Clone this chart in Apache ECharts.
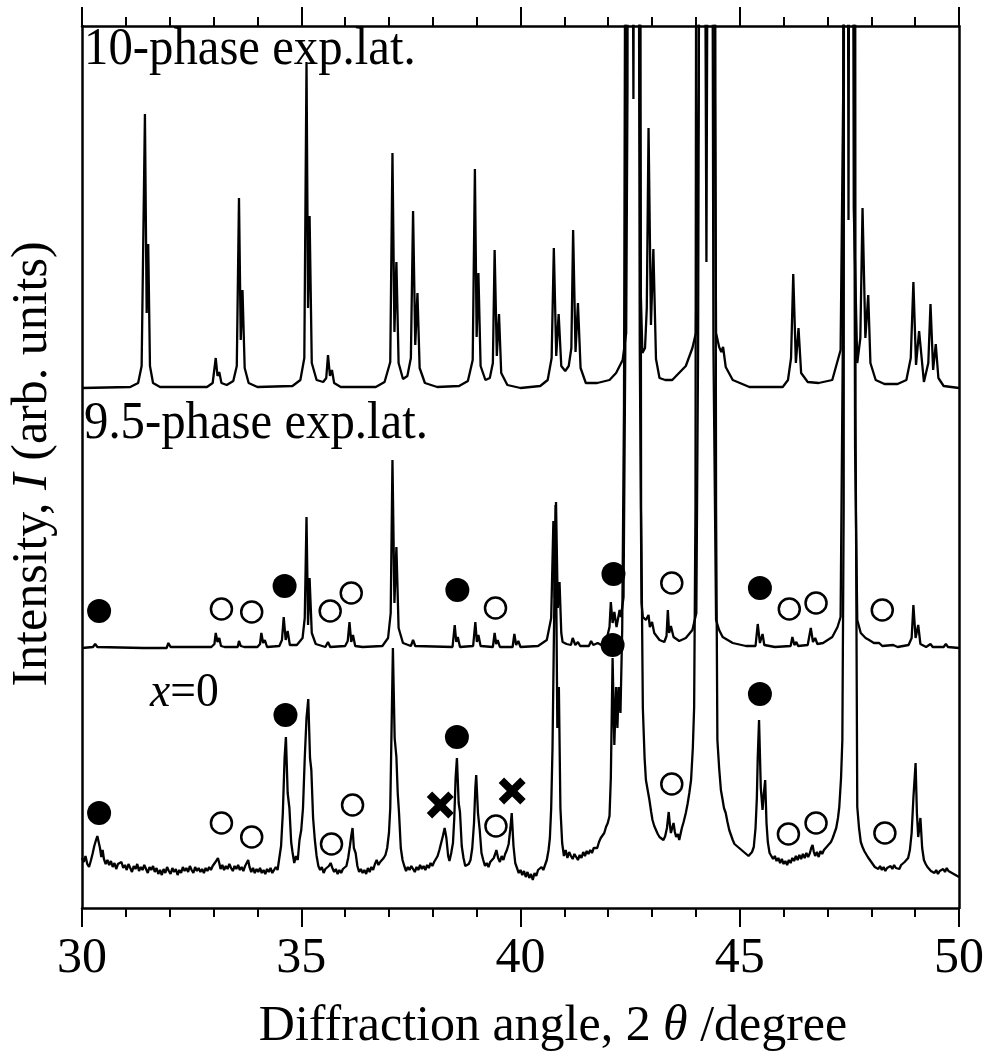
<!DOCTYPE html>
<html lang="en">

<head>
    <meta charset="UTF-8">
    <title>XRD patterns</title>
    <script src="https://cdn.jsdelivr.net/npm/echarts@6.0.0/dist/echarts.min.js"></script>
    <style>
        body { margin: 0; background: #fff; }
    </style>
</head>

<body>
    <div id="xrdChart" style="width: 987px; height: 1053px;"></div>
    <script>
        // x axis ticks (2theta, degree)
        const xTicks = [30, 35, 40, 45, 50];

        // vertical offsets of the stacked patterns (arb. units)
        const tenPhaseOffset = 520;
        const ninePhaseOffset = 260;
        const x0Offset = 0;

        // 10-phase exp.lat. simulated profile [2theta, intensity above its baseline]
        const tenPhaseProfile = [
            [30, 0], [31.1, 1], [31.28, 5], [31.36, 22], [31.435, 274], [31.475, 75], [31.51, 144], [31.55, 22], [31.62, 5], [31.78, 1],
            [32.85, 1], [32.98, 5], [33.05, 30], [33.09, 12], [33.13, 16], [33.18, 5], [33.3, 3], [33.45, 7], [33.53, 22],
            [33.58, 190], [33.62, 48], [33.66, 98], [33.71, 20], [33.8, 5], [34.0, 1],
            [34.8, 2], [34.98, 8], [35.07, 30], [35.12, 326], [35.155, 80], [35.19, 172], [35.24, 25], [35.35, 8],
            [35.5, 6], [35.57, 10], [35.61, 33], [35.655, 12], [35.7, 18], [35.75, 5], [35.9, 1],
            [36.7, 1], [36.9, 6], [37.03, 26], [37.08, 235], [37.125, 56], [37.17, 126], [37.22, 25], [37.32, 9],
            [37.42, 12], [37.5, 30], [37.55, 177], [37.6, 43], [37.65, 95], [37.7, 20], [37.82, 5], [38.1, 1],
            [38.6, 2], [38.8, 7], [38.91, 28], [38.96, 219], [39.0, 51], [39.04, 115], [39.09, 22], [39.2, 8],
            [39.3, 10], [39.37, 25], [39.41, 138], [39.46, 32], [39.51, 74], [39.56, 15], [39.7, 3], [40.0, 0], [40.45, 2],
            [40.62, 8], [40.71, 30], [40.76, 140], [40.815, 32], [40.87, 74], [40.93, 22], [41.02, 17],
            [41.1, 22], [41.16, 40], [41.2, 158], [41.255, 36], [41.31, 85], [41.37, 20], [41.49, 5],
            [41.75, 5], [42.03, 8], [42.18, 15], [42.33, 28], [42.41, 55], [42.44, 300], [42.47, 1500],
            [42.575, 289], [42.65, 1500], [42.7, 500], [42.74, 100], [42.78, 35], [42.84, 40], [42.88, 80],
            [42.92, 260], [42.975, 63], [43.03, 139], [43.09, 29], [43.17, 10], [43.3, 8], [43.46, 8],
            [43.77, 22], [43.92, 40], [44.0, 55], [44.06, 300], [44.12, 1500], [44.24, 126], [44.34, 1500],
            [44.42, 400], [44.46, 55], [44.53, 41], [44.58, 36], [44.62, 41], [44.68, 21], [44.72, 23],
            [44.84, 8], [45.22, 1], [45.98, 1], [46.1, 8], [46.17, 30], [46.22, 114], [46.28, 25], [46.34, 60],
            [46.4, 15], [46.55, 6], [46.8, 5], [47.11, 8], [47.3, 38], [47.36, 300], [47.42, 1500],
            [47.48, 168], [47.54, 1500], [47.6, 180], [47.68, 25], [47.75, 50], [47.8, 180], [47.865, 50],
            [47.93, 93], [47.98, 25], [48.1, 8], [48.3, 4], [48.6, 4], [48.8, 8], [48.9, 30], [48.96, 106],
            [49.02, 23], [49.09, 57], [49.2, 6], [49.3, 25], [49.35, 84], [49.41, 18], [49.47, 44],
            [49.53, 10], [49.65, 2], [50, 0]
        ];

        // 9.5-phase exp.lat. simulated profile [2theta, intensity above its baseline]
        const ninePhaseProfile = [
            [30, 0], [30.25, 1], [30.3, 4], [30.35, 1], [31.4, 0], [31.43, 2], [31.47, 0], [31.93, 0], [31.97, 5], [32.02, 1],
            [32.95, 1], [33.02, 4], [33.05, 15], [33.09, 6], [33.13, 10], [33.17, 2], [33.25, 1], [33.55, 1], [33.58, 7],
            [33.62, 2], [33.66, 4], [33.7, 1], [34.0, 1], [34.06, 4], [34.09, 15], [34.13, 5], [34.17, 8], [34.22, 1],
            [34.5, 2], [34.56, 8], [34.6, 31], [34.645, 8], [34.69, 17], [34.74, 3], [34.9, 3], [35.03, 10], [35.08, 30],
            [35.12, 131], [35.155, 23], [35.19, 70], [35.24, 15], [35.33, 4], [35.55, 1], [35.61, 6], [35.66, 1],
            [36.0, 2], [36.06, 7], [36.1, 26], [36.14, 6], [36.18, 13], [36.23, 2], [36.4, 1], [36.85, 2], [36.98, 10],
            [37.04, 35], [37.08, 188], [37.125, 45], [37.17, 101], [37.22, 20], [37.32, 5], [37.5, 2], [37.55, 8],
            [37.6, 2], [38.45, 1], [38.5, 23], [38.535, 6], [38.57, 11], [38.62, 1], [38.92, 2], [38.97, 26],
            [39.005, 6], [39.04, 13], [39.09, 2], [39.37, 1], [39.41, 15], [39.445, 4], [39.48, 8], [39.53, 1],
            [39.82, 1], [39.86, 14], [39.9, 3], [39.95, 7], [40.0, 1], [40.4, 2], [40.6, 8], [40.7, 30], [40.75, 127],
            [40.78, 50], [40.81, 146], [40.85, 40], [40.89, 66], [40.93, 15], [40.96, 6], [41.05, 4], [41.15, 3],
            [41.19, 10], [41.25, 3], [41.31, 6], [41.36, 2], [41.56, 2], [41.61, 7], [41.66, 3], [41.76, 5], [41.84, 3],
            [41.96, 8], [42.03, 21], [42.06, 46], [42.1, 25], [42.14, 36], [42.19, 21], [42.26, 38], [42.29, 31],
            [42.35, 51], [42.39, 300], [42.44, 1500], [42.56, 800], [42.66, 1500], [42.72, 300], [42.76, 45],
            [42.79, 31], [42.86, 28], [42.92, 33], [42.95, 21], [43.0, 26], [43.05, 15], [43.17, 8], [43.28, 6],
            [43.33, 12], [43.36, 38], [43.39, 15], [43.43, 22], [43.49, 11], [43.62, 7], [43.77, 10], [43.92, 18],
            [44.01, 35], [44.05, 300], [44.12, 1500], [44.24, 900], [44.34, 1500], [44.4, 300], [44.46, 28],
            [44.53, 18], [44.61, 11], [44.84, 5], [45.14, 2], [45.36, 2], [45.41, 24], [45.46, 5], [45.52, 14],
            [45.56, 3], [45.8, 1], [46.16, 2], [46.2, 11], [46.245, 3], [46.29, 6], [46.33, 2], [46.55, 3],
            [46.62, 20], [46.67, 6], [46.72, 10], [46.77, 4], [46.9, 5], [47.11, 11], [47.23, 21], [47.3, 31],
            [47.35, 300], [47.42, 1500], [47.48, 800], [47.56, 1500], [47.63, 200], [47.68, 28], [47.76, 15],
            [47.8, 17], [47.87, 10], [47.95, 8], [48.06, 5], [48.18, 5], [48.25, 2], [48.5, 3], [48.6, 1],
            [48.85, 3], [48.92, 10], [48.96, 43], [49.01, 10], [49.07, 23], [49.12, 4], [49.25, 1], [49.35, 4],
            [49.4, 1], [49.65, 1], [49.7, 4], [49.75, 1], [50, 0]
        ];

        // x=0 measured profile [2theta, intensity]
        const x0Profile = [
            [30.0, 50], [30.04, 46], [30.08, 52], [30.12, 44], [30.16, 41], [30.2, 47], [30.24, 54], [30.28, 62],
            [30.32, 68], [30.35, 72], [30.38, 66], [30.41, 60], [30.44, 51], [30.47, 58], [30.5, 49], [30.54, 44],
            [30.58, 48], [30.62, 43], [30.66, 47], [30.7, 41], [30.74, 45], [30.78, 39], [30.82, 44], [30.86, 42],
            [30.9, 46], [30.94, 40], [30.98, 43], [31.02, 38], [31.06, 44], [31.1, 40], [31.14, 36], [31.18, 42],
            [31.22, 39], [31.26, 44], [31.3, 37], [31.34, 41], [31.38, 38], [31.42, 43], [31.46, 39], [31.5, 35],
            [31.54, 41], [31.58, 38], [31.62, 42], [31.66, 36], [31.7, 40], [31.74, 34], [31.78, 38], [31.82, 33],
            [31.86, 39], [31.9, 35], [31.94, 41], [31.98, 37], [32.02, 34], [32.06, 40], [32.1, 36], [32.14, 39],
            [32.18, 33], [32.22, 38], [32.26, 35], [32.3, 41], [32.34, 37], [32.38, 40], [32.42, 36], [32.46, 42],
            [32.5, 38], [32.54, 35], [32.58, 41], [32.62, 37], [32.66, 40], [32.7, 36], [32.74, 39], [32.78, 35],
            [32.82, 40], [32.86, 37], [32.9, 41], [32.94, 38], [32.98, 42], [33.02, 40], [33.06, 47], [33.1, 50],
            [33.13, 45], [33.16, 39], [33.2, 43], [33.24, 38], [33.28, 42], [33.32, 39], [33.36, 44], [33.4, 40],
            [33.44, 37], [33.48, 42], [33.52, 39], [33.56, 43], [33.6, 38], [33.64, 41], [33.68, 37], [33.72, 42],
            [33.76, 44], [33.79, 48], [33.82, 41], [33.86, 36], [33.9, 40], [33.94, 35], [33.98, 39], [34.02, 36],
            [34.06, 40], [34.1, 35], [34.14, 38], [34.18, 34], [34.22, 39], [34.26, 36], [34.3, 40], [34.34, 35],
            [34.38, 38], [34.42, 41], [34.46, 38], [34.5, 50], [34.54, 62], [34.58, 95], [34.62, 150], [34.65, 171],
            [34.69, 115], [34.73, 100], [34.77, 66], [34.8, 56], [34.84, 45], [34.88, 52], [34.92, 48], [34.96, 68],
            [35.0, 78], [35.04, 100], [35.08, 150], [35.12, 190], [35.16, 209], [35.2, 150], [35.23, 138], [35.27, 90],
            [35.31, 68], [35.35, 52], [35.39, 42], [35.43, 38], [35.47, 41], [35.51, 35], [35.55, 39], [35.59, 37],
            [35.63, 42], [35.67, 45], [35.71, 40], [35.75, 36], [35.79, 39], [35.83, 34], [35.87, 38], [35.91, 35],
            [35.95, 39], [35.99, 37], [36.03, 42], [36.07, 50], [36.11, 62], [36.14, 72], [36.17, 80], [36.2, 60],
            [36.24, 55], [36.28, 42], [36.32, 36], [36.36, 39], [36.4, 35], [36.44, 38], [36.48, 34], [36.52, 40],
            [36.56, 36], [36.6, 41], [36.64, 38], [36.68, 44], [36.72, 48], [36.76, 43], [36.8, 46], [36.84, 44],
            [36.88, 50], [36.92, 53], [36.96, 60], [37.0, 75], [37.03, 100], [37.06, 180], [37.09, 260], [37.13, 170],
            [37.17, 151], [37.2, 115], [37.23, 95], [37.27, 60], [37.31, 48], [37.35, 42], [37.39, 37], [37.43, 41],
            [37.47, 38], [37.51, 42], [37.55, 39], [37.59, 36], [37.63, 41], [37.67, 38], [37.71, 43], [37.75, 39],
            [37.79, 42], [37.83, 38], [37.87, 43], [37.91, 40], [37.95, 45], [37.99, 42], [38.03, 46], [38.07, 48],
            [38.11, 52], [38.15, 58], [38.19, 65], [38.23, 72], [38.27, 80], [38.31, 70], [38.35, 52], [38.38, 47],
            [38.42, 55], [38.46, 65], [38.49, 90], [38.52, 130], [38.55, 150], [38.59, 105], [38.62, 96], [38.66, 62],
            [38.7, 50], [38.74, 42], [38.78, 40], [38.82, 44], [38.86, 48], [38.9, 60], [38.94, 85], [38.97, 120],
            [38.99, 133], [39.03, 95], [39.07, 78], [39.11, 55], [39.15, 48], [39.19, 42], [39.23, 45], [39.27, 41],
            [39.31, 46], [39.35, 44], [39.39, 50], [39.43, 55], [39.45, 58], [39.49, 50], [39.53, 46], [39.57, 52],
            [39.61, 48], [39.65, 54], [39.69, 58], [39.73, 64], [39.77, 80], [39.8, 95], [39.84, 62], [39.88, 45],
            [39.92, 40], [39.96, 35], [40.0, 38], [40.04, 33], [40.08, 37], [40.12, 31], [40.16, 36], [40.2, 30],
            [40.24, 34], [40.28, 28], [40.32, 35], [40.36, 32], [40.4, 38], [40.44, 36], [40.48, 41], [40.52, 38],
            [40.56, 43], [40.6, 48], [40.64, 58], [40.67, 70], [40.7, 100], [40.73, 160], [40.77, 300], [40.8, 403],
            [40.84, 180], [40.875, 221], [40.91, 100], [40.95, 65], [40.99, 52], [41.03, 58], [41.07, 50], [41.11, 56],
            [41.15, 52], [41.19, 49], [41.23, 54], [41.27, 51], [41.31, 48], [41.35, 53], [41.39, 50], [41.43, 56],
            [41.47, 52], [41.51, 57], [41.55, 54], [41.59, 58], [41.63, 55], [41.67, 60], [41.71, 62], [41.75, 60],
            [41.79, 66], [41.83, 70], [41.87, 68], [41.91, 75], [41.95, 81], [41.99, 85], [42.03, 92], [42.06, 130],
            [42.1, 250], [42.14, 163], [42.18, 221], [42.21, 180], [42.24, 221], [42.28, 195], [42.32, 280],
            [42.36, 500], [42.4, 1200], [42.45, 3000], [42.55, 3000], [42.6, 3000], [42.68, 3000], [42.72, 1500],
            [42.75, 400], [42.79, 200], [42.83, 150], [42.86, 128], [42.9, 118], [42.94, 108], [42.98, 96],
            [43.01, 88], [43.05, 82], [43.09, 78], [43.13, 74], [43.17, 71], [43.21, 73], [43.26, 68], [43.3, 72],
            [43.34, 80], [43.38, 96], [43.41, 82], [43.43, 75], [43.46, 80], [43.49, 85], [43.52, 76], [43.55, 71],
            [43.59, 74], [43.62, 68], [43.65, 74], [43.68, 80], [43.72, 86], [43.77, 95], [43.81, 104], [43.85, 115],
            [43.89, 128], [43.93, 160], [43.96, 201], [43.99, 400], [44.02, 1500], [44.1, 3000], [44.2, 2500],
            [44.35, 3000], [44.42, 1500], [44.46, 400], [44.49, 168], [44.53, 140], [44.57, 118], [44.61, 108],
            [44.64, 100], [44.68, 95], [44.72, 86], [44.76, 78], [44.8, 73], [44.84, 68], [44.88, 64], [44.92, 66],
            [44.96, 61], [45.0, 63], [45.04, 58], [45.08, 60], [45.12, 55], [45.16, 57], [45.2, 52], [45.24, 50],
            [45.28, 56], [45.32, 61], [45.36, 80], [45.39, 110], [45.41, 150], [45.44, 188], [45.48, 120], [45.52, 98],
            [45.55, 115], [45.58, 128], [45.61, 85], [45.64, 66], [45.68, 55], [45.72, 52], [45.76, 49], [45.8, 52],
            [45.84, 47], [45.88, 50], [45.92, 45], [45.96, 49], [46.0, 44], [46.04, 47], [46.08, 43], [46.12, 48],
            [46.16, 45], [46.2, 50], [46.24, 47], [46.28, 52], [46.32, 48], [46.36, 53], [46.4, 49], [46.44, 54],
            [46.48, 50], [46.52, 55], [46.56, 51], [46.6, 55], [46.63, 60], [46.66, 63], [46.69, 56], [46.72, 52],
            [46.76, 56], [46.8, 51], [46.84, 57], [46.88, 54], [46.92, 58], [46.96, 56], [47.0, 62], [47.04, 60],
            [47.08, 66], [47.12, 70], [47.16, 72], [47.2, 80], [47.24, 90], [47.27, 101], [47.31, 130], [47.34, 168],
            [47.37, 400], [47.4, 3000], [47.5, 3000], [47.6, 3000], [47.64, 500], [47.68, 101], [47.72, 80],
            [47.76, 66], [47.8, 61], [47.84, 57], [47.88, 54], [47.92, 51], [47.96, 50], [48.0, 46], [48.04, 44],
            [48.08, 41], [48.12, 43], [48.16, 39], [48.2, 42], [48.24, 38], [48.28, 41], [48.32, 37], [48.36, 40],
            [48.4, 38], [48.44, 42], [48.48, 39], [48.52, 43], [48.56, 40], [48.6, 42], [48.64, 39], [48.68, 43],
            [48.72, 41], [48.76, 46], [48.8, 44], [48.84, 50], [48.88, 58], [48.92, 75], [48.96, 110], [49.01, 145],
            [49.04, 95], [49.07, 71], [49.1, 82], [49.12, 90], [49.16, 60], [49.2, 48], [49.24, 44], [49.28, 41],
            [49.32, 40], [49.36, 37], [49.4, 39], [49.44, 35], [49.48, 38], [49.52, 34], [49.56, 37], [49.6, 35],
            [49.64, 39], [49.68, 36], [49.72, 40], [49.76, 37], [49.8, 39], [49.84, 35], [49.88, 37], [49.92, 33],
            [49.96, 35], [50.0, 31]
        ];

        // phase markers [2theta, intensity]
        const filledMarks = [
            [30.39, 297], [34.62, 322], [38.56, 318], [42.12, 334], [45.46, 320],
            [30.39, 95], [34.64, 193], [38.55, 171], [42.10, 263], [45.46, 214]
        ];
        const openMarks = [
            [33.18, 299], [33.87, 296], [35.66, 297], [36.14, 315], [39.43, 300], [43.45, 325], [46.13, 299], [46.74, 305], [48.25, 298],
            [33.18, 85], [33.87, 71], [35.69, 64], [36.17, 103], [39.44, 82], [43.45, 124], [46.11, 74], [46.74, 85], [48.31, 75]
        ];
        const crossMarks = [[38.17, 103], [39.81, 117]];

        const shift = (profile, offset) => profile.map(p => [p[0], p[1] + offset]);

        const serif = '"Liberation Serif", "Times New Roman", serif';
        const black = '#000';

        const xAxisBase = (position, showLabel) => ({
            type: 'value',
            position: position,
            min: xTicks[0],
            max: xTicks[xTicks.length - 1],
            interval: xTicks[1] - xTicks[0],
            axisLine: { show: true, onZero: false, lineStyle: { color: black, width: 2.5 } },
            axisTick: { show: true, inside: false, length: 19, lineStyle: { color: black, width: 2 } },
            minorTick: { show: true, splitNumber: 5, length: 9, lineStyle: { color: black, width: 2 } },
            axisLabel: showLabel
                ? { show: true, fontSize: 50, fontFamily: serif, color: black, margin: 26 }
                : { show: false },
            splitLine: { show: false },
            minorSplitLine: { show: false }
        });

        const yAxisBase = (position) => ({
            type: 'value', min: 0, max: 882, position: position,
            axisLine: { show: true, onZero: false, lineStyle: { color: black, width: 2.5 } },
            axisTick: { show: false }, axisLabel: { show: false }, splitLine: { show: false }
        });

        const lineSeries = (name, data) => ({
            name: name, type: 'line', data: data,
            showSymbol: false, symbol: 'none', clip: true, z: 2,
            lineStyle: { color: black, width: 2.3 }
        });

        const chart = echarts.init(document.getElementById('xrdChart'));
        chart.setOption({
            animation: false,
            backgroundColor: '#fff',
            grid: { left: 82, right: 27, top: 26, bottom: 145 },
            xAxis: [xAxisBase('bottom', true), xAxisBase('top', false)],
            yAxis: [yAxisBase('left'), yAxisBase('right')],
            series: [
                lineSeries('10-phase exp.lat.', shift(tenPhaseProfile, tenPhaseOffset)),
                lineSeries('9.5-phase exp.lat.', shift(ninePhaseProfile, ninePhaseOffset)),
                lineSeries('x=0', shift(x0Profile, x0Offset)),
                {
                    name: 'filled', type: 'scatter', data: filledMarks, symbol: 'circle', symbolSize: 24, z: 4,
                    itemStyle: { color: black, opacity: 1 }
                },
                {
                    name: 'open', type: 'scatter', data: openMarks, symbol: 'circle', symbolSize: 21, z: 4,
                    itemStyle: { color: '#fff', borderColor: black, borderWidth: 2.5, opacity: 1 }
                },
                {
                    name: 'cross', type: 'scatter', data: crossMarks, z: 4,
                    symbol: 'path://M2,0 L5,3 L8,0 L10,2 L7,5 L10,8 L8,10 L5,7 L2,10 L0,8 L3,5 L0,2 Z',
                    symbolSize: 27,
                    itemStyle: { color: black, opacity: 1 }
                }
            ],
            graphic: [
                {
                    type: 'text', x: 84, y: 50, scaleX: 0.92, z: 10,
                    style: { text: '10-phase exp.lat.', font: '53px ' + serif, fill: black, align: 'left', verticalAlign: 'middle' }
                },
                {
                    type: 'text', x: 84, y: 424, scaleX: 0.92, z: 10,
                    style: { text: '9.5-phase exp.lat.', font: '53px ' + serif, fill: black, align: 'left', verticalAlign: 'middle' }
                },
                {
                    type: 'text', x: 150, y: 693, scaleX: 0.95, z: 10,
                    style: {
                        text: '{i|x}{n|=0}', fill: black, align: 'left', verticalAlign: 'middle',
                        rich: {
                            i: { fontSize: 48, fontFamily: serif, fontStyle: 'italic', fill: black },
                            n: { fontSize: 48, fontFamily: serif, fill: black }
                        }
                    }
                },
                {
                    type: 'text', x: 553, y: 1027, scaleX: 0.98, z: 10,
                    style: {
                        text: '{n|Diffraction angle, 2 }{i|θ}{n| /degree}', fill: black, align: 'center', verticalAlign: 'middle',
                        rich: {
                            i: { fontSize: 51, fontFamily: serif, fontStyle: 'italic', fill: black },
                            n: { fontSize: 51, fontFamily: serif, fill: black }
                        }
                    }
                },
                {
                    type: 'text', x: 33, y: 464, scaleX: 0.98, rotation: Math.PI / 2, z: 10,
                    style: {
                        text: '{n|Intensity, }{i|I}{n| (arb. units)}', fill: black, align: 'center', verticalAlign: 'middle',
                        rich: {
                            i: { fontSize: 51, fontFamily: serif, fontStyle: 'italic', fill: black },
                            n: { fontSize: 51, fontFamily: serif, fill: black }
                        }
                    }
                }
            ]
        });
    </script>
</body>

</html>
